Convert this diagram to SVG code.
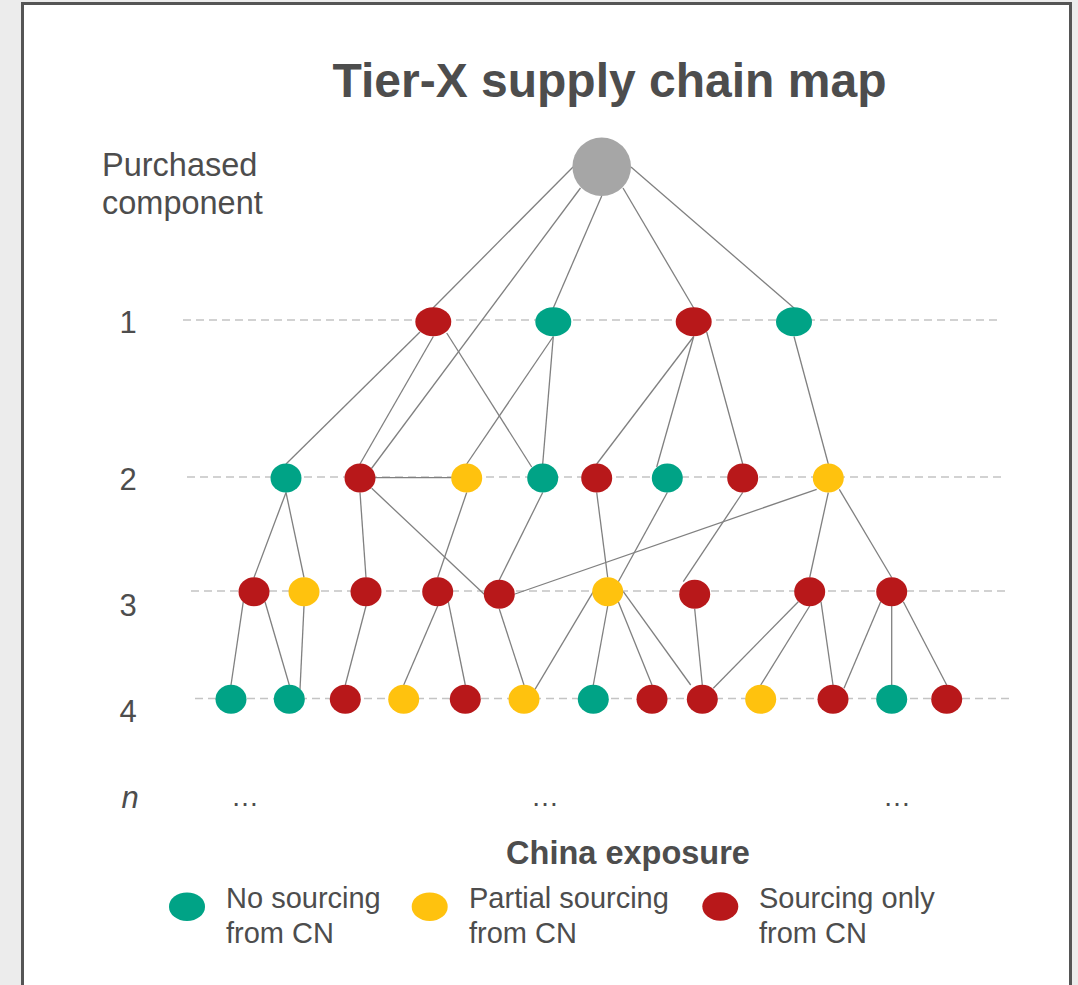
<svg xmlns="http://www.w3.org/2000/svg" width="1078" height="985" viewBox="0 0 1078 985">
<style>
.t{font-family:"Liberation Sans",Arial,sans-serif;fill:#4d4d4d}
.b{font-weight:bold}
.e{stroke:#808080;stroke-width:1.3;fill:none}
.d{stroke:#c4c4c4;stroke-width:1.3;stroke-dasharray:8 5;fill:none}
.g{fill:#00a386}.y{fill:#ffc20e}.r{fill:#b8181a}
</style>
<rect x="0" y="0" width="1078" height="985" fill="#ececec"/>
<rect x="22.5" y="3.5" width="1048" height="990" fill="#ffffff" stroke="#555555" stroke-width="3"/>
<text class="t b" x="609.5" y="97" font-size="48" text-anchor="middle">Tier-X supply chain map</text>
<g id="labels">
<text class="t" x="102" y="176" font-size="32.5">Purchased</text>
<text class="t" x="102" y="214" font-size="32.5">component</text>
<text class="t" x="128" y="333" font-size="31" text-anchor="middle">1</text>
<text class="t" x="128" y="490" font-size="31" text-anchor="middle">2</text>
<text class="t" x="128" y="616" font-size="31" text-anchor="middle">3</text>
<text class="t" x="128" y="722" font-size="31" text-anchor="middle">4</text>
<text class="t" x="130" y="808" font-size="31" font-style="italic" text-anchor="middle">n</text>
<text class="t" x="245" y="806" font-size="28" text-anchor="middle">…</text>
<text class="t" x="545" y="806" font-size="28" text-anchor="middle">…</text>
<text class="t" x="897" y="806" font-size="28" text-anchor="middle">…</text>
</g>
<g id="tier-lines">
<line class="d" x1="183" y1="320" x2="1000" y2="320"/>
<line class="d" x1="187" y1="477" x2="1003" y2="477"/>
<line class="d" x1="191" y1="591" x2="1007" y2="591"/>
<line class="d" x1="195" y1="698.5" x2="1010" y2="698.5"/>
</g>
<g id="connectors">
<line class="e" x1="573" y1="167" x2="433" y2="308"/>
<line class="e" x1="580.5" y1="188" x2="371.5" y2="468.5"/>
<line class="e" x1="601.7" y1="196" x2="553.3" y2="308"/>
<line class="e" x1="623" y1="188" x2="693.7" y2="308"/>
<line class="e" x1="631" y1="167" x2="794" y2="308"/>
<line class="e" x1="420" y1="332" x2="286" y2="464"/>
<line class="e" x1="433.3" y1="336.5" x2="360" y2="464"/>
<line class="e" x1="446.7" y1="333" x2="531.7" y2="467"/>
<line class="e" x1="553.3" y1="336.5" x2="466.7" y2="464"/>
<line class="e" x1="553.3" y1="336.5" x2="542.7" y2="464"/>
<line class="e" x1="693.7" y1="336.5" x2="596.7" y2="464"/>
<line class="e" x1="693.7" y1="336.5" x2="656.7" y2="467"/>
<line class="e" x1="706.7" y1="332" x2="742.7" y2="464"/>
<line class="e" x1="794" y1="336.5" x2="828.3" y2="464"/>
<line class="e" x1="375" y1="477.7" x2="451.7" y2="477.7" stroke-width="2.2"/>
<line class="e" x1="286" y1="492.5" x2="254" y2="577.5"/>
<line class="e" x1="286" y1="492.5" x2="304" y2="577.5"/>
<line class="e" x1="360" y1="492.5" x2="366" y2="577.5"/>
<line class="e" x1="371.7" y1="488.3" x2="484" y2="594"/>
<line class="e" x1="466.7" y1="492.5" x2="437.7" y2="577.5"/>
<line class="e" x1="542.7" y1="492.5" x2="499.3" y2="580"/>
<line class="e" x1="816.7" y1="489.3" x2="515" y2="594"/>
<line class="e" x1="596.7" y1="492.5" x2="607.7" y2="577.5"/>
<line class="e" x1="667.3" y1="492.5" x2="618.3" y2="581.7"/>
<line class="e" x1="742.7" y1="492.5" x2="683.3" y2="581.7"/>
<line class="e" x1="828.3" y1="492.5" x2="809.7" y2="577.5"/>
<line class="e" x1="839.3" y1="489.3" x2="891.7" y2="577.5"/>
<line class="e" x1="243.3" y1="601.7" x2="231" y2="685"/>
<line class="e" x1="265" y1="601.7" x2="289.3" y2="685"/>
<line class="e" x1="304" y1="606" x2="300" y2="689.3"/>
<line class="e" x1="366" y1="606" x2="345.3" y2="685"/>
<line class="e" x1="437.7" y1="606" x2="403.7" y2="685"/>
<line class="e" x1="448.3" y1="601.7" x2="465.3" y2="685"/>
<line class="e" x1="499.3" y1="609" x2="524" y2="685"/>
<line class="e" x1="593.3" y1="591.7" x2="535" y2="689.3"/>
<line class="e" x1="607.7" y1="606" x2="593.3" y2="685"/>
<line class="e" x1="618.3" y1="601.7" x2="652" y2="685"/>
<line class="e" x1="623.3" y1="591.7" x2="690.7" y2="685"/>
<line class="e" x1="694.7" y1="609" x2="702.3" y2="685"/>
<line class="e" x1="798.3" y1="601.7" x2="713.3" y2="688.3"/>
<line class="e" x1="809.7" y1="606" x2="760.7" y2="685"/>
<line class="e" x1="821" y1="601.7" x2="833" y2="685"/>
<line class="e" x1="880.7" y1="601.7" x2="844" y2="688.3"/>
<line class="e" x1="891.7" y1="606" x2="891.7" y2="685"/>
<line class="e" x1="903.3" y1="601.7" x2="946.7" y2="685"/>
</g>
<g id="root"><circle cx="601.7" cy="166.7" r="29.3" fill="#a6a6a6"/></g>
<g id="tier1">
<ellipse id="t1a" class="r" cx="433.3" cy="321.7" rx="18" ry="14.5"/>
<ellipse id="t1b" class="g" cx="553.3" cy="321.7" rx="18" ry="14.5"/>
<ellipse id="t1c" class="r" cx="693.7" cy="321.7" rx="18" ry="14.5"/>
<ellipse id="t1d" class="g" cx="794" cy="321.7" rx="18" ry="14.5"/>
</g>
<g id="tier2">
<ellipse id="t2a" class="g" cx="286" cy="478" rx="15.5" ry="14.5"/>
<ellipse id="t2b" class="r" cx="360" cy="478" rx="15.5" ry="14.5"/>
<ellipse id="t2c" class="y" cx="466.7" cy="478" rx="15.5" ry="14.5"/>
<ellipse id="t2d" class="g" cx="542.7" cy="478" rx="15.5" ry="14.5"/>
<ellipse id="t2e" class="r" cx="596.7" cy="478" rx="15.5" ry="14.5"/>
<ellipse id="t2f" class="g" cx="667.3" cy="478" rx="15.5" ry="14.5"/>
<ellipse id="t2g" class="r" cx="742.7" cy="478" rx="15.5" ry="14.5"/>
<ellipse id="t2h" class="y" cx="828.3" cy="478" rx="15.5" ry="14.5"/>
</g>
<g id="tier3">
<ellipse id="t3a" class="r" cx="254" cy="591.7" rx="15.5" ry="14.5"/>
<ellipse id="t3b" class="y" cx="304" cy="591.7" rx="15.5" ry="14.5"/>
<ellipse id="t3c" class="r" cx="366" cy="591.7" rx="15.5" ry="14.5"/>
<ellipse id="t3d" class="r" cx="437.7" cy="591.7" rx="15.5" ry="14.5"/>
<ellipse id="t3e" class="r" cx="499.3" cy="594.3" rx="15.5" ry="14.5"/>
<ellipse id="t3f" class="y" cx="607.7" cy="591.7" rx="15.5" ry="14.5"/>
<ellipse id="t3g" class="r" cx="694.7" cy="594.3" rx="15.5" ry="14.5"/>
<ellipse id="t3h" class="r" cx="809.7" cy="591.7" rx="15.5" ry="14.5"/>
<ellipse id="t3i" class="r" cx="891.7" cy="591.7" rx="15.5" ry="14.5"/>
</g>
<g id="tier4">
<ellipse id="t4a" class="g" cx="231" cy="699.3" rx="15.5" ry="14.5"/>
<ellipse id="t4b" class="g" cx="289.3" cy="699.3" rx="15.5" ry="14.5"/>
<ellipse id="t4c" class="r" cx="345.3" cy="699.3" rx="15.5" ry="14.5"/>
<ellipse id="t4d" class="y" cx="403.7" cy="699.3" rx="15.5" ry="14.5"/>
<ellipse id="t4e" class="r" cx="465.3" cy="699.3" rx="15.5" ry="14.5"/>
<ellipse id="t4f" class="y" cx="524" cy="699.3" rx="15.5" ry="14.5"/>
<ellipse id="t4g" class="g" cx="593.3" cy="699.3" rx="15.5" ry="14.5"/>
<ellipse id="t4h" class="r" cx="652" cy="699.3" rx="15.5" ry="14.5"/>
<ellipse id="t4i" class="r" cx="702.3" cy="699.3" rx="15.5" ry="14.5"/>
<ellipse id="t4j" class="y" cx="760.7" cy="699.3" rx="15.5" ry="14.5"/>
<ellipse id="t4k" class="r" cx="833" cy="699.3" rx="15.5" ry="14.5"/>
<ellipse id="t4l" class="g" cx="891.7" cy="699.3" rx="15.5" ry="14.5"/>
<ellipse id="t4m" class="r" cx="946.7" cy="699.3" rx="15.5" ry="14.5"/>
</g>
<g id="legend">
<text class="t b" x="628" y="864" font-size="32.5" text-anchor="middle">China exposure</text>
<ellipse class="g" cx="187" cy="906.7" rx="18" ry="14.3"/>
<text class="t" x="226" y="908" font-size="29">No sourcing</text>
<text class="t" x="226" y="943" font-size="29">from CN</text>
<ellipse class="y" cx="429.7" cy="906.7" rx="18" ry="14.3"/>
<text class="t" x="469" y="908" font-size="29">Partial sourcing</text>
<text class="t" x="469" y="943" font-size="29">from CN</text>
<ellipse class="r" cx="720.3" cy="906.5" rx="18" ry="14.3"/>
<text class="t" x="759" y="908" font-size="29">Sourcing only</text>
<text class="t" x="759" y="943" font-size="29">from CN</text>
</g>
</svg>
